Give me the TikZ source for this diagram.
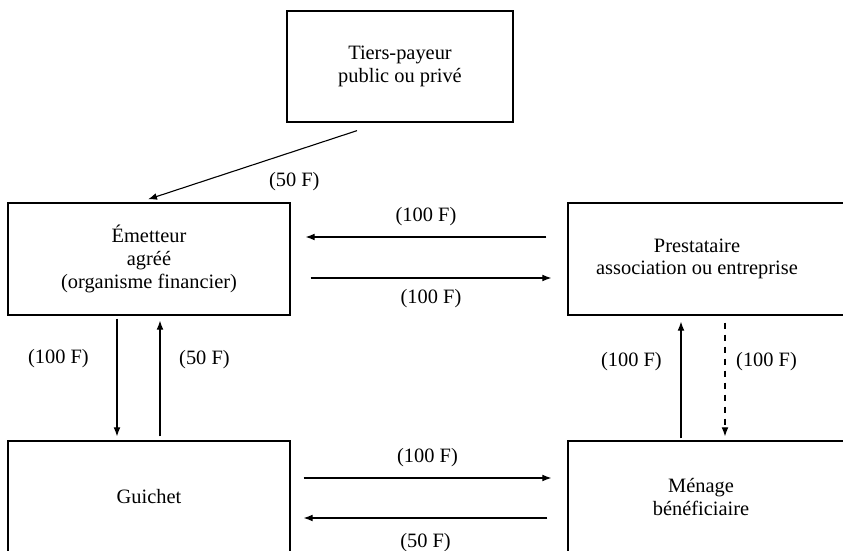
\documentclass[tikz,border=0pt]{standalone}
\usepackage{fontspec}
\setmainfont{Liberation Serif}
\usetikzlibrary{arrows.meta}

\begin{document}
\begin{tikzpicture}[x=0.5pt,y=-0.5pt,
  font=\fontsize{10.2}{11.3}\selectfont, % 字体大小
  boite/.style={draw,line width=0.65pt,align=center,inner sep=0pt},
  flux/.style={line width=0.55pt,-{Latex[length=4.5pt,width=3.4pt]}},
]
  \clip (0,0) rectangle (843,551); % 页面边界
  \node[boite,minimum width=113pt,minimum height=55.5pt] (tiers) at (400,66.5) {Tiers-payeur\\public ou privé};
  \node[boite,minimum width=141pt,minimum height=56pt] (emet) at (149,259) {Émetteur\\agréé\\(organisme financier)};
  \node[boite,minimum width=141pt,minimum height=56pt] (prest) at (709,259) {\hspace*{-12pt}Prestataire\\\hspace*{-12pt}association ou entreprise};
  \node[boite,minimum width=141pt,minimum height=56pt] (guich) at (149,497) {Guichet};
  \node[boite,minimum width=141pt,minimum height=56pt] (menage) at (709,497) {\hspace*{-8pt}Ménage\\\hspace*{-8pt}bénéficiaire};

  \draw[flux] ([shift={(-43,8)}]tiers.south) -- ([shift={(-1,-3)}]emet.north)
    node[pos=0.3,below=7pt] (l1) {(50 F)};
  \draw[flux] ([shift={(-21,-22)}]prest.west) -- ([shift={(15,-22)}]emet.east)
    node[midway,above=2pt] (l2) {(100 F)};
  \draw[flux] ([shift={(20,19)}]emet.east) -- ([shift={(-16,19)}]prest.west)
    node[midway,below=2pt] (l3) {(100 F)};
  \draw[flux] ([shift={(-32,3)}]emet.south) -- ([shift={(-32,-4)}]guich.north)
    node[pos=0.34,left=10.5pt] (l4) {(100 F)};
  \draw[flux] ([shift={(11,-4)}]guich.north) -- ([shift={(11,5)}]emet.south)
    node[pos=0.66,right=6pt] (l5) {(50 F)};
  \draw[flux] ([shift={(-28,-2)}]menage.north) -- ([shift={(-28,6)}]prest.south)
    node[pos=0.66,left=6pt] (l6) {(100 F)};
  \draw[flux,dashed] ([shift={(16,7)}]prest.south) -- ([shift={(16,-4)}]menage.north)
    node[pos=0.34,right=2pt] (l7) {(100 F)};
  \draw[flux] ([shift={(13,-19)}]guich.east) -- ([shift={(-16,-19)}]menage.west)
    node[midway,above=2pt] (l8) {(100 F)};
  \draw[flux] ([shift={(-20,21)}]menage.west) -- ([shift={(13,21)}]guich.east)
    node[midway,below=4pt] (l9) {(50 F)};
\end{tikzpicture}
\end{document}
